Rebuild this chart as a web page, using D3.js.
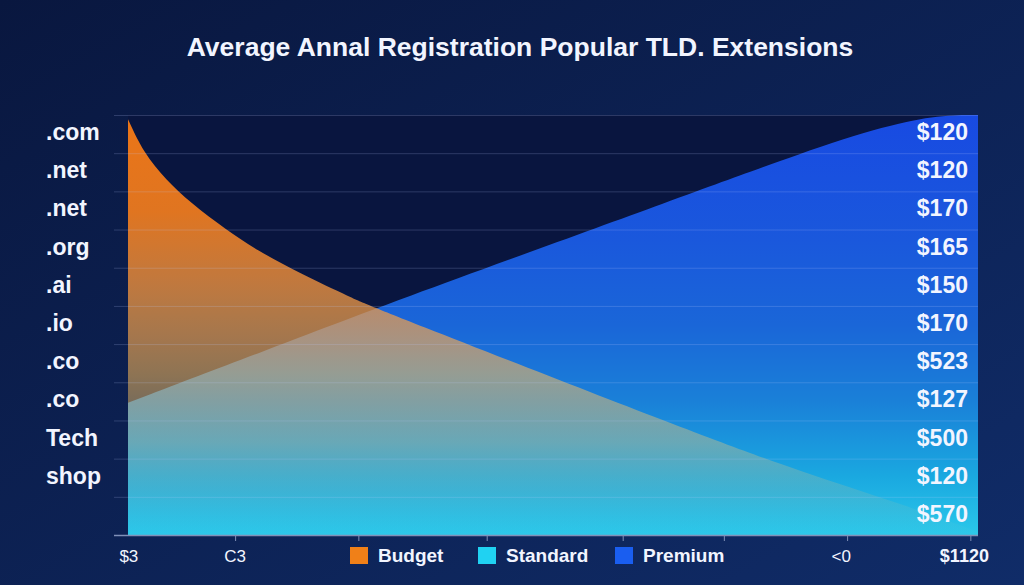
<!DOCTYPE html>
<html>
<head>
<meta charset="utf-8">
<script src="https://cdn.jsdelivr.net/npm/d3@7"></script>
<style>
    html, body { margin: 0; padding: 0; background: #0a1840; overflow: hidden; }
    svg { display: block; }
    text { font-family: "Liberation Sans", Arial, sans-serif; fill: #f2f5ff; }
</style>
</head>
<body>
<div id="chart"></div>
<script>

// Chart data
// ============================================
var tldLabels = [".com", ".net", ".net", ".org", ".ai", ".io", ".co", ".co", "Tech", "shop"];
var priceLabels = ["$120", "$120", "$170", "$165", "$150", "$170", "$523", "$127", "$500", "$120", "$570"];

var bottomLabels = ["$3", "C3", "<0", "$1120"];
var bottomLabelPos = [0.1, 12.6, 83.9, 98.4];
var bottomTickPos = [12.6, 27.1, 42.2, 58.2, 70.1, 84.6, 99.1];

var seriesNames = ["Budget", "Standard", "Premium"];
var seriesColors = ["#f08018", "#20d2f2", "#1a5ef0"];

// position along the x axis (0-100) and level (0-100)
var budgetPos = [0, 1.8, 4.5, 7.3, 11.6, 15.1, 20.2, 26.4, 29.1, 67.3, 79.1, 90.8, 100];
var budgetValues = [99.0, 91.1, 84.5, 79.2, 72.6, 67.9, 62.3, 56.4, 54.0, 23.8, 15.1, 7.5, 0.8];

var premiumPos = [0, 16.3, 29.1, 67.3, 79.1, 89.3, 95.5, 100];
var premiumValues = [31.5, 44.0, 54.0, 82.1, 90.9, 97.6, 100, 100];

// Set up the chart
// ================================
var svgWidth = 1024;
var svgHeight = 585;

var plot = { left: 128, right: 978, top: 115, bottom: 535 };

var svg = d3.select("#chart")
    .append("svg")
    .attr("width", svgWidth)
    .attr("height", svgHeight);

var defs = svg.append("defs");

// background gradient
var bgGrad = defs.append("linearGradient")
    .attr("id", "bgGrad")
    .attr("x1", 0).attr("y1", 0).attr("x2", 1).attr("y2", 1);
bgGrad.append("stop").attr("offset", "0%").attr("stop-color", "#09173f");
bgGrad.append("stop").attr("offset", "100%").attr("stop-color", "#102c68");

// premium fill: deep blue fading to cyan
var premiumGrad = defs.append("linearGradient")
    .attr("id", "premiumGrad")
    .attr("gradientUnits", "userSpaceOnUse")
    .attr("x1", 0).attr("y1", plot.top).attr("x2", 0).attr("y2", plot.bottom);
[[0, "#184ae2"], [0.3, "#1a58dc"], [0.5, "#1a66d8"], [0.68, "#1a80d8"], [0.86, "#1aa8e0"], [1, "#2ac8ea"]]
    .forEach(s => premiumGrad.append("stop").attr("offset", s[0]).attr("stop-color", s[1]));

// budget fill: orange fading to tan / cyan
var budgetGrad = defs.append("linearGradient")
    .attr("id", "budgetGrad")
    .attr("gradientUnits", "userSpaceOnUse")
    .attr("x1", 0).attr("y1", plot.top).attr("x2", 0).attr("y2", plot.bottom);
[[0, "rgb(242,120,22)", 0.97], [0.23, "rgb(240,124,30)", 0.93], [0.39, "rgb(235,142,60)", 0.82],
 [0.54, "rgb(240,168,86)", 0.66], [0.62, "rgb(237,184,99)", 0.58], [0.78, "rgb(200,190,137)", 0.45],
 [0.9, "rgb(130,184,180)", 0.3], [1, "rgb(60,200,230)", 0.15]]
    .forEach(s => budgetGrad.append("stop")
        .attr("offset", s[0]).attr("stop-color", s[1]).attr("stop-opacity", s[2]));

defs.append("clipPath")
    .attr("id", "plotClip")
    .append("rect")
    .attr("x", plot.left).attr("y", plot.top)
    .attr("width", plot.right - plot.left)
    .attr("height", plot.bottom - plot.top);

svg.append("rect")
    .attr("width", svgWidth)
    .attr("height", svgHeight)
    .attr("fill", "url(#bgGrad)");

svg.append("rect")
    .attr("x", plot.left).attr("y", plot.top)
    .attr("width", plot.right - plot.left)
    .attr("height", plot.bottom - plot.top)
    .attr("fill", "#09153f");

// Scales
// ============================================
var xScale = d3.scaleLinear().domain([0, 100]).range([plot.left, plot.right]);
var yScale = d3.scaleLinear().domain([0, 100]).range([plot.bottom, plot.top]);
var rowScale = d3.scaleBand().domain(d3.range(priceLabels.length)).range([plot.top, plot.bottom]);

// Areas
// ============================================
var area = d3.area()
    .curve(d3.curveBasis)
    .x(d => xScale(d[0]))
    .y0(plot.bottom)
    .y1(d => yScale(d[1]));

var areaGroup = svg.append("g").attr("clip-path", "url(#plotClip)");

areaGroup.append("path")
    .datum(d3.zip(premiumPos, premiumValues))
    .attr("d", area)
    .attr("fill", "url(#premiumGrad)");

areaGroup.append("path")
    .datum(d3.zip(budgetPos, budgetValues))
    .attr("d", area)
    .attr("fill", "url(#budgetGrad)");

// Gridlines
// ============================================
var gridValues = d3.range(priceLabels.length + 1).map(i => 100 - i * 100 / priceLabels.length);
var lastGrid = gridValues.length - 1;

var grid = svg.append("g")
    .attr("transform", "translate(114, 0)")
    .call(d3.axisLeft(yScale).tickValues(gridValues).tickSize(-(plot.right - 114)).tickFormat(""));
grid.select(".domain").remove();
grid.selectAll(".tick line")
    .attr("stroke", (d, i) => i === lastGrid ? "#8090b8" : "rgba(190,205,255,0.2)")
    .attr("stroke-width", (d, i) => i === lastGrid ? 1.5 : 1);

// Bottom axis ticks
var xAxis = svg.append("g")
    .attr("transform", `translate(0, ${plot.bottom})`)
    .call(d3.axisBottom(xScale).tickValues(bottomTickPos).tickSize(6).tickFormat(""));
xAxis.select(".domain").remove();
xAxis.selectAll(".tick line").attr("stroke", "#8090b8");

svg.append("g")
    .selectAll("text")
    .data(bottomLabels)
    .enter()
    .append("text")
    .attr("x", (d, i) => xScale(bottomLabelPos[i]))
    .attr("y", 556)
    .attr("text-anchor", "middle")
    .attr("dominant-baseline", "central")
    .attr("font-size", (d, i) => i === bottomLabels.length - 1 ? 18 : 17)
    .attr("font-weight", (d, i) => i === bottomLabels.length - 1 ? "bold" : "normal")
    .text(d => d);

// Row labels
// ============================================
svg.append("g")
    .selectAll("text")
    .data(tldLabels)
    .enter()
    .append("text")
    .attr("x", 46)
    .attr("y", (d, i) => rowScale(i) + rowScale.bandwidth() / 2 - 2)
    .attr("dominant-baseline", "central")
    .attr("font-size", 23)
    .attr("font-weight", "bold")
    .text(d => d);

svg.append("g")
    .selectAll("text")
    .data(priceLabels)
    .enter()
    .append("text")
    .attr("x", 968)
    .attr("y", (d, i) => rowScale(i) + rowScale.bandwidth() / 2 - 2)
    .attr("text-anchor", "end")
    .attr("dominant-baseline", "central")
    .attr("font-size", 23)
    .attr("font-weight", "bold")
    .text(d => d);

// Title
// ============================================
svg.append("text")
    .attr("x", 520)
    .attr("y", 56)
    .attr("text-anchor", "middle")
    .attr("font-size", 26.5)
    .attr("font-weight", "bold")
    .attr("fill", "#ffffff")
    .text("Average Annal Registration Popular TLD. Extensions");

// Legend
// ============================================
var legendX = [350, 478, 615];

var legend = svg.append("g")
    .selectAll("g")
    .data(seriesNames)
    .enter()
    .append("g")
    .attr("transform", (d, i) => `translate(${legendX[i]}, 547)`);

legend.append("rect")
    .attr("width", 18)
    .attr("height", 17)
    .attr("fill", (d, i) => seriesColors[i]);

legend.append("text")
    .attr("x", 28)
    .attr("y", 15)
    .attr("font-size", 19)
    .attr("font-weight", "bold")
    .text(d => d);

</script>
</body>
</html>
